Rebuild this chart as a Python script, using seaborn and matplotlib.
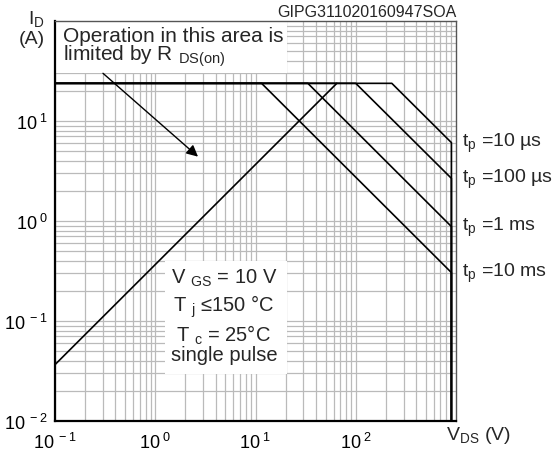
import numpy as np
import pandas as pd
import matplotlib
matplotlib.use("Agg")
import matplotlib.pyplot as plt
import matplotlib.ticker as mticker
import matplotlib.transforms as mtransforms
from matplotlib.patches import Rectangle
import seaborn as sns

# values (log-log SOA)
pulse_labels = ["10 µs", "100 µs", "1 ms", "10 ms"]
knee_v = [229, 100, 33.3, 11.5]        # where each pulse curve leaves the I_D max line
end_i = [6.08, 2.67, 0.88, 0.305]      # current at V_DS max
i_max = 23.8
v_max = 900
v_start = 0.1
i_floor = 0.01
rds_v = [0.1, 64.7]
rds_i = [0.0366, 23.8]

x_ticks = [0.1, 1, 10, 100]
x_tick_labels = ["-1", "0", "1", "2"]
y_ticks = [0.01, 0.1, 1, 10]
y_tick_labels = ["-2", "-1", "0", "1"]

# long-form table: one path per pulse width
rows = []
for lab, kv, ei in zip(pulse_labels, knee_v, end_i):
    pts = [(v_start, i_max), (kv, i_max), (v_max, ei), (v_max, i_floor)]
    for v, i in pts:
        rows.append({"curve": lab, "V": v, "I": i})
df = pd.DataFrame(rows)
df_rds = pd.DataFrame({"curve": "rds", "V": rds_v, "I": rds_i})

sns.set_theme(style="white")
plt.rcParams["font.family"] = ["Liberation Sans", "DejaVu Sans"]
plt.rcParams["mathtext.fontset"] = "custom"
plt.rcParams["mathtext.rm"] = "Liberation Sans"
plt.rcParams["mathtext.it"] = "Liberation Sans:italic"

fig = plt.figure(figsize=(5.6, 4.52), dpi=100)
ax = fig.add_axes([55 / 560, 1 - 422 / 452, 401 / 560, 400 / 452])

ax.set_xscale("log")
ax.set_yscale("log")
ax.set_xlim(0.1, 1000)
ax.set_ylim(0.01, 100)

sns.lineplot(data=df, x="V", y="I", units="curve", estimator=None, sort=False,
             color="black", linewidth=1.2, ax=ax, zorder=4)
sns.lineplot(data=df_rds, x="V", y="I", estimator=None, sort=False,
             color="black", linewidth=1.2, ax=ax, zorder=4)

# grid
ax.xaxis.set_major_locator(mticker.FixedLocator(x_ticks))
ax.yaxis.set_major_locator(mticker.FixedLocator(y_ticks))
ax.xaxis.set_minor_locator(mticker.LogLocator(base=10, subs=np.arange(2, 10), numticks=20))
ax.yaxis.set_minor_locator(mticker.LogLocator(base=10, subs=np.arange(2, 10), numticks=20))
ax.xaxis.set_minor_formatter(mticker.NullFormatter())
ax.yaxis.set_minor_formatter(mticker.NullFormatter())
ax.grid(which="both", color="#bababa", linewidth=0.9, zorder=0)
ax.set_axisbelow(True)
ax.xaxis.set_major_formatter(mticker.FixedFormatter(
    [r"$\mathregular{10^{\ %s}}$" % s for s in x_tick_labels]))
ax.yaxis.set_major_formatter(mticker.FixedFormatter(
    [r"$\mathregular{10^{\ %s}}$" % s for s in y_tick_labels]))
ax.tick_params(which="both", length=0, labelsize=13, colors="black")
ax.tick_params(axis="y", pad=5)
ax.tick_params(axis="x", pad=8)
ax.set_xlabel("")
ax.set_ylabel("")

for side in ["left", "bottom"]:
    ax.spines[side].set_color("black")
    ax.spines[side].set_linewidth(1.6)
for side in ["right", "top"]:
    ax.spines[side].set_color("#555555")
    ax.spines[side].set_linewidth(1.0)

# white text panels
ax.add_patch(Rectangle((0, 0.87), 0.5786, 0.13, transform=ax.transAxes,
                       facecolor="white", edgecolor="none", zorder=2))
ax.add_patch(Rectangle((0.274, 0.1175), 0.304, 0.2825, transform=ax.transAxes,
                       facecolor="white", edgecolor="none", zorder=2))

ax.text(0.02, 0.965, "Operation in this area is", transform=ax.transAxes,
        fontsize=15, ha="left", va="center", zorder=5)
ax.text(0.02, 0.915, r"limited by R $_{\mathregular{DS(on)}}$", transform=ax.transAxes,
        fontsize=15, ha="left", va="center", zorder=5)
ax.annotate("", xy=(2.67, 4.4), xytext=(0.301, 30),
            arrowprops=dict(arrowstyle="-|>", color="black", lw=1.0,
                            mutation_scale=17, shrinkA=0, shrinkB=0), zorder=5)

cond = [r"V $_{\mathregular{GS}}$ = 10 V", r"T $_{\mathregular{j}}$ ≤150 °C",
        r"T $_{\mathregular{c}}$ = 25°C", "single pulse"]
for txt, yy in zip(cond, [0.36, 0.2875, 0.2175, 0.165]):
    ax.text(0.421, yy, txt, transform=ax.transAxes, fontsize=14.5,
            ha="center", va="center", zorder=5)

# pulse labels at the right edge
trans = mtransforms.blended_transform_factory(ax.transAxes, ax.transData)
for lab, ei in zip(pulse_labels, end_i):
    ax.text(1.015, ei, r"t$_{\mathregular{p}}$ =" + lab, transform=trans,
            fontsize=14, ha="left", va="center", clip_on=False)

ax.text(1.0, 1.025, "GIPG311020160947SOA", transform=ax.transAxes,
        fontsize=11.5, ha="right", va="center")
ax.text(-0.025, 1.0075, r"I$_{\mathregular{D}}$", transform=ax.transAxes,
        fontsize=14, ha="right", va="center")
ax.text(-0.025, 0.955, "(A)", transform=ax.transAxes,
        fontsize=14, ha="right", va="center")
ax.text(0.975, -0.035, r"V$_{\mathregular{DS}}$ (V)", transform=ax.transAxes,
        fontsize=14, ha="left", va="center")

fig.savefig("out.png", dpi=100)
